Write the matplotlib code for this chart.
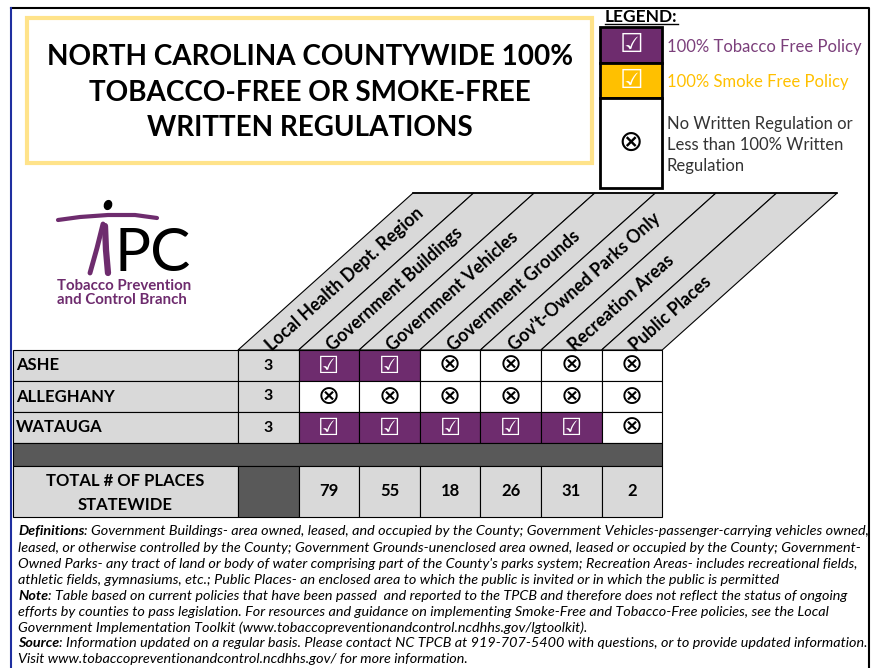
import math
import matplotlib
matplotlib.use("Agg")
import matplotlib.pyplot as plt
from matplotlib.patches import Rectangle, Polygon, Ellipse

# ---- data ----
title_lines = ["NORTH CAROLINA COUNTYWIDE 100%", "TOBACCO-FREE OR SMOKE-FREE", "WRITTEN REGULATIONS"]
counties = ["ASHE", "ALLEGHANY", "WATAUGA"]
regions = [3, 3, 3]
headers = ["Local Health Dept. Region", "Government Buildings", "Government Vehicles",
           "Government Grounds", "Gov't-Owned Parks Only", "Recreation Areas", "Public Places"]
# T = 100% tobacco free, S = 100% smoke free, N = none / less than 100%
ashe = ["T", "T", "N", "N", "N", "N"]
alleghany = ["N", "N", "N", "N", "N", "N"]
watauga = ["T", "T", "T", "T", "T", "N"]
totals = [79, 55, 18, 26, 31, 2]
legend_keys = ["T", "S", "N"]
legend_labels = ["100% Tobacco Free Policy", "100% Smoke Free Policy",
                 "No Written Regulation or\nLess than 100% Written\nRegulation"]
footer = [
    [("Definitions", "bold"), (": Government Buildings- area owned, leased, and occupied by the County; Government Vehicles-passenger-carrying vehicles owned,", "normal")],
    [("leased, or otherwise controlled by the County; Government Grounds-unenclosed area owned, leased or occupied by the County; Government-", "normal")],
    [("Owned Parks- any tract of land or body of water comprising part of the County's parks system; Recreation Areas- includes recreational fields,", "normal")],
    [("athletic fields, gymnasiums, etc.; Public Places- an enclosed area to which the public is invited or in which the public is permitted", "normal")],
    [("Note", "bold"), (": Table based on current policies that have been passed  and reported to the TPCB and therefore does not reflect the status of ongoing", "normal")],
    [("efforts by counties to pass legislation. For resources and guidance on implementing Smoke-Free and Tobacco-Free policies, see the Local", "normal")],
    [("Government Implementation Toolkit (www.tobaccopreventionandcontrol.ncdhhs.gov/lgtoolkit).", "normal")],
    [("Source", "bold"), (": Information updated on a regular basis. Please contact NC TPCB at 919-707-5400 with questions, or to provide updated information.", "normal")],
    [("Visit www.tobaccopreventionandcontrol.ncdhhs.gov/ for more information.", "normal")],
]

PURPLE = "#6E2C6E"
GOLD = "#FFC000"
GRAY = "#D9D9D9"
DARK = "#595959"
FILL = {"T": PURPLE, "S": GOLD, "N": "white"}
FONT = ["Lato", "DejaVu Sans"]

fig = plt.figure(figsize=(8.81, 6.68), dpi=100)
ax = fig.add_axes([0, 0, 1, 1])
ax.set_xlim(0, 881); ax.set_ylim(668, 0); ax.axis("off")
R = fig.canvas.get_renderer()


def fit(t, width):
    w = t.get_window_extent(R).width
    t.set_fontsize(t.get_fontsize() * width / w)
    return t


def mark(x, y, key, size=17):
    if key == "N":
        ax.text(x, y, "\u2297", ha="center", va="center", fontsize=size + 2, color="black", family="DejaVu Sans")
    else:
        ax.text(x, y, "\u2611", ha="center", va="center", fontsize=size, color="white", family="DejaVu Sans")


# outer frame
ax.plot([11, 869, 869], [8, 8, 668], color="black", lw=1.5)
ax.plot([11, 11], [8, 668], color="#1F2FA0", lw=1.5)

# title box
ax.add_patch(Rectangle((27, 18), 565, 145, facecolor="white", edgecolor="#FFE38A", lw=3))
tt = [ax.text(310, y, s, ha="center", va="center", fontsize=18, fontweight="bold", family=FONT)
      for s, y in zip(title_lines, [57, 93, 128])]
fs = fit(tt[0], 528).get_fontsize()
for t in tt[1:]:
    t.set_fontsize(fs)

# legend
lt = ax.text(605, 17, "LEGEND:", ha="left", va="center", fontsize=10, fontweight="bold", family=FONT)
fit(lt, 73)
ax.plot([605, 678], [24, 24], color="black", lw=1)
leg_y = [27, 63, 98, 188]
for i, key in enumerate(legend_keys):
    y0, y1 = leg_y[i], leg_y[i + 1]
    ax.add_patch(Rectangle((600, y0), 62, y1 - y0, facecolor=FILL[key], edgecolor="black", lw=2))
    mark(631, (y0 + y1) / 2, key, size=19)
ax.text(667, 47, legend_labels[0], ha="left", va="center", color="#7B3F7B", family=FONT, fontsize=12)
ax.text(667, 82, legend_labels[1], ha="left", va="center", color=GOLD, family=FONT, fontsize=12)
ax.text(667, 145, legend_labels[2], ha="left", va="center", color="#333333", family=FONT,
        fontsize=12, linespacing=1.35)

# logo
ax.plot([58, 80, 108, 135, 157], [220, 217, 215, 215, 218], color=PURPLE, lw=3, solid_capstyle="round")
ax.add_patch(Ellipse((108, 205), 7, 9, angle=20, color="black"))
ax.plot([103, 97, 90], [224, 248, 273], color=PURPLE, lw=3.5, solid_capstyle="round")
ax.plot([105, 106, 108], [226, 250, 273], color=PURPLE, lw=4.5, solid_capstyle="round")
pc = ax.text(114, 271, "PC", ha="left", va="baseline", fontsize=30, color="black", family=FONT)
fit(pc, 76)
lg1 = ax.text(57, 286, "Tobacco Prevention", ha="left", va="center", fontsize=9.5, fontweight="bold",
              color=PURPLE, family=FONT)
fit(lg1, 136)
ax.text(57, 300, "and Control Branch", ha="left", va="center", fontsize=lg1.get_fontsize(),
        fontweight="bold", color=PURPLE, family=FONT)

# table geometry
x_lbl, x_reg, col_w = 13, 238, 60.6
top, dx, head_top = 350, 175, 193
ang = math.degrees(math.atan2(top - head_top, dx))
xs = [x_reg + i * col_w for i in range(len(headers) + 1)]

# slanted header
a = math.radians(ang)
d = (math.cos(a), -math.sin(a)); n = (math.sin(a), math.cos(a))
probe = ax.text(0, 0, headers[0], fontsize=11, fontweight="bold", family=FONT)
hs = 11 * 205 / probe.get_window_extent(R).width
probe.remove()
for i, h in enumerate(headers):
    x0, x1 = xs[i], xs[i + 1]
    ax.add_patch(Polygon([(x0, top), (x1, top), (x1 + dx, head_top), (x0 + dx, head_top)],
                         closed=True, facecolor=GRAY, edgecolor="black", lw=0.8))
    s, p = 24, 19
    ax.text(x0 + s * d[0] + p * n[0], top + s * d[1] + p * n[1], h, rotation=ang,
            rotation_mode="anchor", ha="left", va="center", fontsize=hs,
            fontweight="bold", family=FONT)
ax.plot([xs[0] + dx, xs[-1] + dx], [head_top, head_top], color="black", lw=1.2)

# county rows
rows = [ashe, alleghany, watauga]
row_y = [350, 381, 412, 443]
for r, (name, reg, vals) in enumerate(zip(counties, regions, rows)):
    y0, y1 = row_y[r], row_y[r + 1]
    yc = (y0 + y1) / 2
    ax.add_patch(Rectangle((x_lbl, y0), x_reg - x_lbl, y1 - y0, facecolor=GRAY, edgecolor="black", lw=0.8))
    ax.text(x_lbl + 3, yc, name, ha="left", va="center", fontsize=12, fontweight="bold", family=FONT)
    ax.add_patch(Rectangle((xs[0], y0), col_w, y1 - y0, facecolor=GRAY, edgecolor="black", lw=0.8))
    ax.text(xs[0] + col_w / 2, yc, str(reg), ha="center", va="center", fontsize=11.5,
            fontweight="bold", family=FONT)
    for c, v in enumerate(vals):
        ax.add_patch(Rectangle((xs[c + 1], y0), col_w, y1 - y0, facecolor=FILL[v], edgecolor="black", lw=0.8))
        mark(xs[c + 1] + col_w / 2, yc, v)

# dark separator row
ax.add_patch(Rectangle((x_lbl, 443), xs[-1] - x_lbl, 23, facecolor=DARK, edgecolor="black", lw=0.8))

# totals row
ty0, ty1 = 466, 517
ax.add_patch(Rectangle((x_lbl, ty0), x_reg - x_lbl, ty1 - ty0, facecolor=GRAY, edgecolor="black", lw=0.8))
ax.text((x_lbl + x_reg) / 2, 481, "TOTAL # OF PLACES", ha="center", va="center", fontsize=12,
        fontweight="bold", family=FONT)
ax.text((x_lbl + x_reg) / 2, 505, "STATEWIDE", ha="center", va="center", fontsize=12,
        fontweight="bold", family=FONT)
ax.add_patch(Rectangle((xs[0], ty0), col_w, ty1 - ty0, facecolor=DARK, edgecolor="black", lw=0.8))
for c, v in enumerate(totals):
    ax.add_patch(Rectangle((xs[c + 1], ty0), col_w, ty1 - ty0, facecolor=GRAY, edgecolor="black", lw=0.8))
    ax.text(xs[c + 1] + col_w / 2, (ty0 + ty1) / 2, str(v), ha="center", va="center", fontsize=12,
            fontweight="bold", family=FONT)

# footer notes
probe = ax.text(0, 0, "".join(s for s, _ in footer[0]), fontsize=10, fontstyle="italic", family=FONT)
fsz = 10 * 852 / probe.get_window_extent(R).width
probe.remove()
for line, y in zip(footer, [531, 548, 564, 580, 596, 612, 628, 643, 659]):
    x = 18
    for s, w in line:
        t = ax.text(x, y, s, ha="left", va="center", fontsize=fsz, fontstyle="italic",
                    fontweight=w, family=FONT, color="black")
        x += t.get_window_extent(R).width

fig.savefig("out.png", dpi=100)
